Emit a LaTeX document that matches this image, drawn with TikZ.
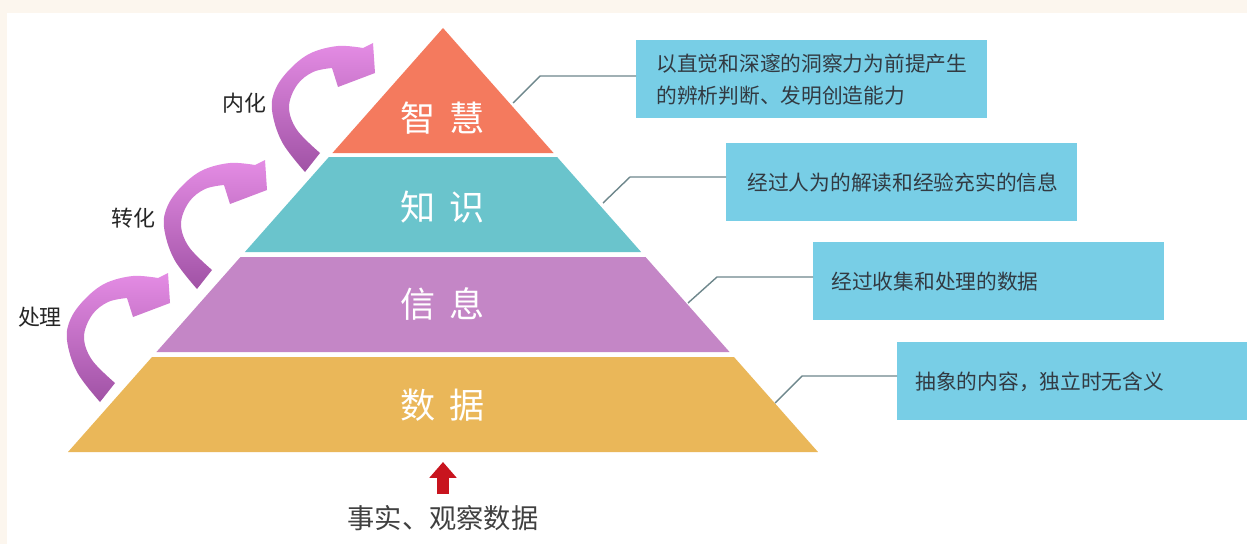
\documentclass[tikz,border=0pt]{standalone}
\usepackage{fontspec}
\newfontfamily\cjk{Noto Sans CJK SC}
\usetikzlibrary{arrows.meta,positioning}

\definecolor{pagecream}{RGB}{252,246,238}
\definecolor{wisdomred}{RGB}{244,122,94}
\definecolor{knowteal}{RGB}{106,196,204}
\definecolor{infopurple}{RGB}{196,134,198}
\definecolor{dataorange}{RGB}{234,183,89}
\definecolor{boxblue}{RGB}{120,206,230}
\definecolor{textgray}{RGB}{50,58,66}
\definecolor{linkgray}{RGB}{110,135,140}
\definecolor{arrowpink}{RGB}{228,140,228}
\definecolor{arrowpurple}{RGB}{160,82,165}
\definecolor{factred}{RGB}{200,20,30}

\begin{document}
\begin{tikzpicture}[
                % one unit is one pixel of the reference, y runs downwards
                x=0.02cm, y=-0.02cm,
                level label/.style = {font=\cjk\fontsize{20}{24}\selectfont, text=white},
                info box/.style = {fill=boxblue, minimum width=7.02cm, minimum height=1.56cm,
                                   anchor=north west, inner sep=0pt},
                info text/.style = {font=\cjk\fontsize{11.8}{18}\selectfont, text=textgray,
                                    align=left, inner sep=0pt},
                link/.style = {draw=linkgray, line width=0.8pt},
                step label/.style = {font=\cjk\fontsize{12.5}{15}\selectfont, text=black!85},
                bend arrow/.style = {top color=arrowpink, bottom color=arrowpurple},
                fact label/.style = {font=\cjk\fontsize{15.5}{18}\selectfont, text=black!75},
                fact arrow/.style = {draw=factred, line width=6.3pt, -{Triangle[width=15pt,length=9pt]}}
            ]
            \useasboundingbox (0,0) rectangle (1247,544);
            \fill[pagecream] (0,0) rectangle (1247,544);
            \fill[white] (7,13) rectangle (1247,544);
            % the four bands of the pyramid
            \foreach \t/\b/\col/\name/\txt/\ly in {
                28/153/wisdomred/wisdom/智\hspace{0.4em}慧/118,
                157/252/knowteal/knowledge/知\hspace{0.4em}识/207,
                257/352/infopurple/information/信\hspace{0.4em}息/304,
                357/452/dataorange/data/数\hspace{0.4em}据/405}
            {
                \fill[\col] ({443-0.8844*(\t-28)},\t) -- ({443+0.8844*(\t-28)},\t)
                    -- ({443+0.8844*(\b-28)},\b) -- ({443-0.8844*(\b-28)},\b) -- cycle;
                \node[level label] (\name) at (443,\ly) {\txt};
            }
            % the boxes on the right
            \node[info box] (b1) at (636,40) {};
            \node[info box] (b2) at (726,143) {};
            \node[info box] (b3) at (813,242) {};
            \node[info box] (b4) at (897,342) {};
            \node[info text, right=0.4cm of b1.west] (t1) {以直觉和深邃的洞察力为前提产生\\的辨析判断、发明创造能力};
            \node[info text, right=0.42cm of b2.west] (t2) {经过人为的解读和经验充实的信息};
            \node[info text, right=0.36cm of b3.west] (t3) {经过收集和处理的数据};
            \node[info text, right=0.36cm of b4.west] (t4) {抽象的内容，独立时无含义};
            % links from the bands to the boxes
            \foreach \i/\ex/\ey/\kx/\ky in {1/513/103/540/76, 2/603/203/630/177,
                                             3/688/303/717/277, 4/775/403/802/376}
            {
                \coordinate (e\i) at (\ex,\ey);
                \coordinate (k\i) at (\kx,\ky);
                \draw[link] (e\i) -- (k\i) -- (k\i -| b\i.west);
            }
            % curved arrows on the left
            \foreach \dx/\dy in {0/0, 97/-113, 205/-230}
                \path[bend arrow, shift={(\dx,\dy)}]
                    plot[smooth, tension=0.6] coordinates {(115,383) (92,360) (84,337) (92,315) (108,302) (127,298)}
                    -- (133,317) -- (170,303) -- (168,273)
                    -- plot[smooth, tension=0.6] coordinates {(158,278) (133,276) (106,283) (86,298) (71,318) (67,340) (77,372) (100,402)}
                    -- cycle;
            \node[step label] (s1) at (40,317) {处理};
            \node[step label] (s2) at (133,218) {转化};
            \node[step label] (s3) at (244,103) {内化};
            % facts at the bottom
            \node[fact label] (facts) at (443,518) {事实、观察数据};
            \coordinate (ftail) at (443,494);
            \coordinate (fhead) at (443,462);
            \draw[fact arrow] (ftail) -- (fhead);
        \end{tikzpicture}
\end{document}
